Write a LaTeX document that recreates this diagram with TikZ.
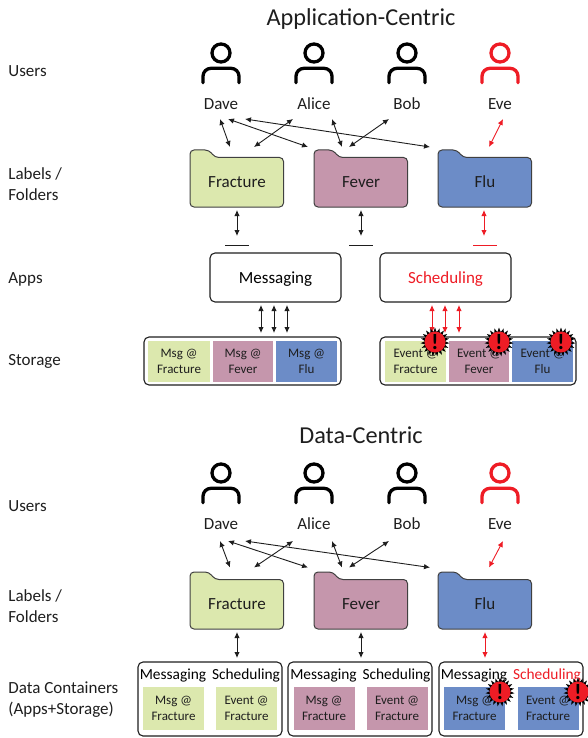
\documentclass[tikz,border=0pt]{standalone}
\usepackage{fontspec}
\setmainfont{Carlito}
\usepackage{xcolor}
\usepackage{tikz}
\usetikzlibrary{arrows.meta}
\usetikzlibrary{shapes.geometric}
\definecolor{fracgreen}{HTML}{DCE8AE}
\definecolor{fevmauve}{HTML}{C596AC}
\definecolor{flublue}{HTML}{6C8CC7}
\definecolor{alertred}{HTML}{EE1C25}
\definecolor{ink}{HTML}{1E1E1E}
\newcommand{\fsz}[1]{\fontsize{#1}{#1}\selectfont}
\tikzset{every picture/.style={line width=0.75pt}}
\tikzset{
  title/.style={font=\fsz{24.3},text=ink},
  rowlabel/.style={anchor=west,align=left,inner sep=0pt,font=\fsz{17},text=ink},
  username/.style={font=\fsz{17},text=ink,text height=11pt,text depth=3pt},
  foldertext/.style={font=\fsz{17},text=ink,minimum width=93pt,minimum height=50pt},
  appbox/.style={draw=ink,rounded corners=5pt,line width=1.1pt,minimum width=131pt,minimum height=49pt,font=\fsz{17},text height=13pt,text depth=1pt},
  outerbox/.style={draw=ink,rounded corners=5pt,line width=1.1pt,fill=white},
  cell/.style={minimum width=#1,minimum height=41pt,align=center,inner sep=0pt,font=\fontsize{13}{16}\selectfont,text=ink,execute at begin node={\rule{0pt}{17pt}}},
  cell/.default=61pt,
  applabel/.style={font=\fsz{15.4},inner sep=0pt,text height=10pt,text depth=3pt},
  biarrow/.style={{Latex[length=6pt,width=5.5pt]}-{Latex[length=6pt,width=5.5pt]},line width=0.9pt,draw=ink},
  redarrow/.style={biarrow,draw=alertred},
  capline/.style={line width=1.2pt,color=#1},
  capline/.default=ink,
  burst/.style={star,star points=19,star point ratio=1.45,fill=black,minimum size=29pt,inner sep=0pt},
  bang/.style={circle,fill=alertred,minimum size=21pt,inner sep=0pt,font=\bfseries\fontsize{22}{22}\selectfont,text=black},
  user/.pic={
    \draw[line width=3.3pt,pic actions] (0,-10) circle (9pt);
    \draw[line width=3.3pt,line cap=round,pic actions] (-18,19.7) -- (-18,13.3) arc (180:90:8pt) -- (10,5.3) arc (90:0:8pt) -- (18,19.7);
  },
}
% folder: name, x of left edge, y of top edge, fill, text
\newcommand{\folder}[5]{
  \draw[draw=ink!85,line width=1pt,fill=#4,rounded corners=4pt]
    (#2,#3+30) -- (#2,#3) -- (#2+19,#3) -- (#2+25,#3+7.5) -- (#2+93.5,#3+7.5)
    -- (#2+93.5,#3+57) -- (#2,#3+57) -- cycle;
  \node[foldertext] (#1) at (#2+47,#3+32) {#5};
}
% alert mark: name, x, y
\newcommand{\alertmark}[3]{
  \node[burst] (#1) at (#2,#3) {};
  \node[bang] (#1bang) at (#2,#3) {!};
}
\begin{document}
\begin{tikzpicture}[x=1pt,y=-1pt]
\useasboundingbox (0,0) rectangle (587,738);
\node[title] (titleA) at (361,19) {Application-Centric};
\node[title] (titleB) at (361,435) {Data-Centric};
%
\node[rowlabel] (usersA) at (8,71.5) {Users};
\node[rowlabel] (labelsA) at (8,184) {Labels /\\[4.5pt]Folders};
\node[rowlabel] (appsA) at (8,279.5) {Apps};
\node[rowlabel] (storageA) at (8,361.5) {Storage};
\node[rowlabel] (usersB) at (8,506.5) {Users};
\node[rowlabel] (labelsB) at (8,606) {Labels /\\[4.5pt]Folders};
\node[rowlabel] (containersB) at (8,699.5) {Data Containers\\[4.5pt](Apps+Storage)};
%
% users, folders and the arrows between them, once per panel
\foreach \p/\yicon/\yname/\ya/\yb/\yf in {A/63/105.5/119/147/150,B/483/525.5/541/567.5/572}{
  \pic at (221,\yicon) {user};
  \pic at (314,\yicon) {user};
  \pic at (407,\yicon) {user};
  \pic[draw=alertred] at (500,\yicon) {user};
  \node[username] (dave\p) at (221,\yname) {Dave};
  \node[username] (alice\p) at (314,\yname) {Alice};
  \node[username] (bob\p) at (407,\yname) {Bob};
  \node[username] (eve\p) at (500,\yname) {Eve};
  \folder{fracture\p}{190}{\yf}{fracgreen}{Fracture}
  \folder{fever\p}{314}{\yf}{fevmauve}{Fever}
  \folder{flu\p}{438}{\yf}{flublue}{Flu}
  \coordinate (daveFrac\p) at (220,\ya);
  \coordinate (fracDave\p) at (230,\yb);
  \coordinate (daveFev\p) at (228,\ya);
  \coordinate (fevDave\p) at (308,\yb);
  \coordinate (daveFlu\p) at (245,\ya);
  \coordinate (fluDave\p) at (430,\yb);
  \coordinate (aliceFrac\p) at (293,\ya);
  \coordinate (fracAlice\p) at (254,\yb);
  \coordinate (aliceFev\p) at (332,\ya);
  \coordinate (fevAlice\p) at (342,\yb);
  \coordinate (bobFev\p) at (389,\ya);
  \coordinate (fevBob\p) at (349,\yb);
  \coordinate (eveFlu\p) at (503,\ya);
  \coordinate (fluEve\p) at (489,\yb);
  \draw[biarrow] (daveFrac\p) -- (fracDave\p);
  \draw[biarrow] (daveFev\p) -- (fevDave\p);
  \draw[biarrow] (daveFlu\p) -- (fluDave\p);
  \draw[biarrow] (aliceFrac\p) -- (fracAlice\p);
  \draw[biarrow] (aliceFev\p) -- (fevAlice\p);
  \draw[biarrow] (bobFev\p) -- (fevBob\p);
  \draw[redarrow] (eveFlu\p) -- (fluEve\p);
}
%
% top panel: apps
\coordinate (fracA1) at (237,210);
\coordinate (fracA2) at (237,236);
\coordinate (fevA1) at (361,210);
\coordinate (fevA2) at (361,236);
\coordinate (fluA1) at (484,210);
\coordinate (fluA2) at (484,236);
\draw[biarrow] (fracA1) -- (fracA2);
\draw[biarrow] (fevA1) -- (fevA2);
\draw[redarrow] (fluA1) -- (fluA2);
\coordinate (capFracL) at (225,245.5);
\coordinate (capFracR) at (249,245.5);
\coordinate (capFevL) at (349,245.5);
\coordinate (capFevR) at (373,245.5);
\coordinate (capFluL) at (473,245.5);
\coordinate (capFluR) at (497,245.5);
\draw[capline] (capFracL) -- (capFracR);
\draw[capline] (capFevL) -- (capFevR);
\draw[capline=alertred] (capFluL) -- (capFluR);
\node[appbox] (messaging) at (275.5,277.5) {Messaging};
\node[appbox,text=alertred] (scheduling) at (445.5,277.5) {Scheduling};
%
% top panel: storage
\node[outerbox,minimum width=197pt,minimum height=48pt] (msgStore) at (242.5,361) {};
\node[outerbox,minimum width=196pt,minimum height=48pt] (eventStore) at (478,361) {};
\node[cell=62pt,fill=fracgreen] (msgFrac) at (179,361) {Msg @\\Fracture};
\node[cell=60pt,fill=fevmauve] (msgFev) at (243,361) {Msg @\\Fever};
\node[cell=61pt,fill=flublue] (msgFlu) at (306.5,361) {Msg @\\Flu};
\node[cell=61pt,fill=fracgreen] (eventFrac) at (415.5,361) {Event @\\Fracture};
\node[cell=60pt,fill=fevmauve] (eventFev) at (479,361) {Event @\\Fever};
\node[cell=61pt,fill=flublue] (eventFlu) at (542.5,361) {Event @\\Flu};
\foreach \x/\n in {261/1,274/2,287/3}{
  \coordinate (msgTop\n) at (\x,305);
  \coordinate (msgBot\n) at (\x,333);
  \draw[biarrow] (msgTop\n) -- (msgBot\n);
}
\foreach \x/\n in {432/1,445/2,459/3}{
  \coordinate (eventTop\n) at (\x,305);
  \coordinate (eventBot\n) at (\x,333);
  \draw[redarrow] (eventTop\n) -- (eventBot\n);
}
\alertmark{alertFrac}{435}{342}
\alertmark{alertFev}{499}{342}
\alertmark{alertFlu}{561}{342}
%
% bottom panel: containers
\node[outerbox,minimum width=144pt,minimum height=74pt] (boxFrac) at (210,699) {};
\node[outerbox,minimum width=144pt,minimum height=74pt] (boxFev) at (360,699) {};
\node[outerbox,minimum width=144pt,minimum height=74pt] (boxFlu) at (511,699) {};
\foreach \b/\c/\xa/\xb/\ta in {Frac/fracgreen/173.5/246.5/173,Fev/fevmauve/324/397/323.5,Flu/flublue/474.5/548/474}{
  \node[applabel] (msg\b Label) at (\ta,675.5) {Messaging};
  \node[cell,minimum height=43pt,fill=\c] (msg\b Cell) at (\xa,708) {Msg @\\Fracture};
  \node[cell,minimum height=43pt,fill=\c] (event\b Cell) at (\xb,708) {Event @\\Fracture};
}
\node[applabel] (schedFrac) at (246,675.5) {Scheduling};
\node[applabel] (schedFev) at (396.5,675.5) {Scheduling};
\node[applabel,text=alertred] (schedFlu) at (547,675.5) {Scheduling};
\coordinate (fracB1) at (237,632);
\coordinate (fracB2) at (237,658);
\coordinate (fevB1) at (361,632);
\coordinate (fevB2) at (361,658);
\coordinate (fluB1) at (485,632);
\coordinate (fluB2) at (485,658);
\draw[biarrow] (fracB1) -- (fracB2);
\draw[biarrow] (fevB1) -- (fevB2);
\draw[redarrow] (fluB1) -- (fluB2);
\alertmark{alertMsg}{500}{692}
\alertmark{alertEvent}{578}{692}
\end{tikzpicture}
\end{document}
